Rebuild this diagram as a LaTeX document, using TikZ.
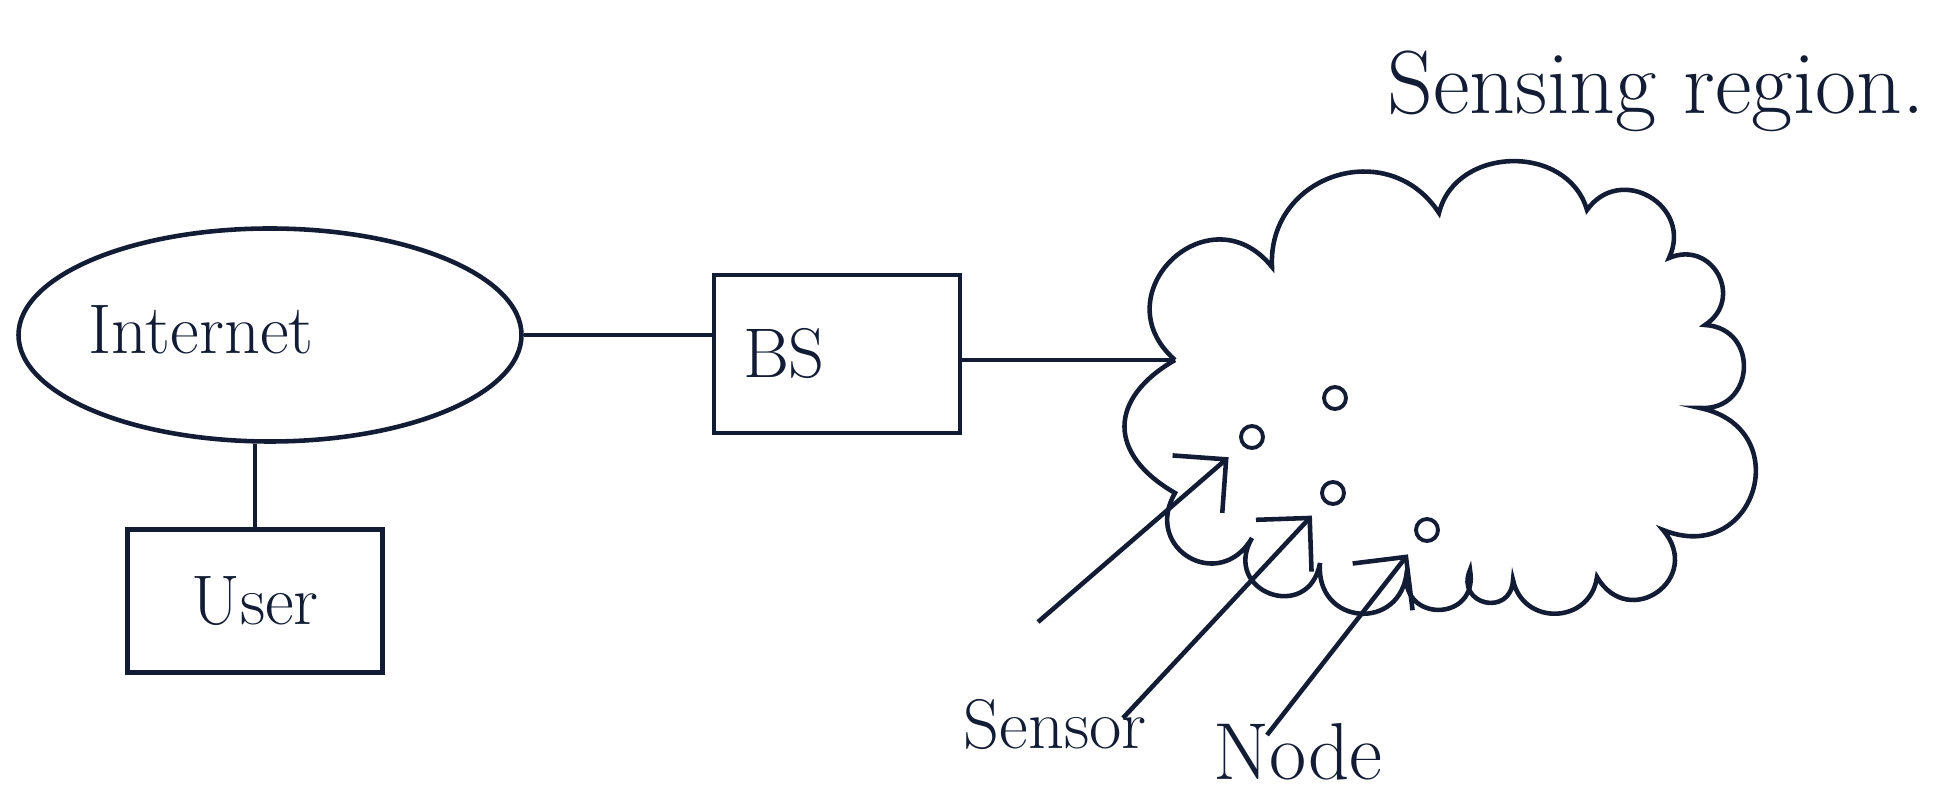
\documentclass[tikz,border=0pt]{standalone}
\usepackage{tikz}
\usetikzlibrary{positioning, arrows.meta, shapes.geometric}
\definecolor{ink}{RGB}{18,28,52}

\begin{document}
\begin{tikzpicture}[ink, line width=1.3pt,
    lbl/.style={font=\fontsize{20}{24}\selectfont, inner sep=0pt},
    biglbl/.style={font=\fontsize{23}{28}\selectfont, inner sep=0pt},
    box/.style={draw, rectangle},
    sens/.style={draw, circle, minimum size=2.2mm, inner sep=0pt, line width=1.1pt},
    ptr/.style={-{Straight Barb[length=3.8mm, width=7.6mm]}, shorten >=1.8mm},
    puff/.style 2 args={bend left=#1, looseness=#2}]
  \useasboundingbox (0,0) rectangle (19.57,7.91);

  % internet, user and base station
  \node [draw, ellipse, minimum width=5.03cm, minimum height=2.13cm,
    label={[lbl, xshift=-6.9mm, yshift=0.5mm]center:Internet}] (inet) at (2.70,4.56) {};
  \node [box, lbl, minimum width=2.55cm, minimum height=1.43cm] (user) at (2.55,1.90) {User};
  \node [box, lbl, minimum height=1.58cm, text width=1.88cm, inner xsep=2.9mm,
    align=left] (bs) at (8.37,4.37) {BS};
  \draw (inet.south -| user.north) -- (user.north);
  \draw (inet.east) -- (inet.east -| bs.west);

  % sensing region
  \coordinate (regionW) at (11.75,4.31);
  \draw (regionW) to[puff={95}{1.9}] (12.72,5.24) to[puff={75}{1.35}] (14.39,5.78)
    to[puff={75}{1.2}] (15.87,5.81) to[puff={85}{1.55}] (16.69,5.33)
    to[puff={85}{1.6}] (17.05,4.66) to[puff={90}{1.7}] (17.00,3.83)
    to[puff={95}{2.0}] (16.63,2.61) to[puff={95}{2.0}] (15.97,2.14)
    to[puff={80}{1.45}] (15.13,2.11) to[puff={100}{2.2}] (14.70,2.21)
    to[puff={100}{2.2}] (14.07,2.21) to[puff={90}{1.85}] (13.20,2.28)
    to[puff={100}{2.2}] (12.52,2.53) to[puff={90}{1.85}] (11.75,2.98)
    to[puff={60}{1.5}] (regionW);
  \draw (bs.east |- regionW) -- (regionW);
  \node [biglbl, font=\fontsize{25.5}{30}\selectfont, anchor=base west] (title)
    at (13.85,6.77) {Sensing region.};

  % sensor nodes
  \node [sens] (s1) at (13.35,3.93) {};
  \node [sens] (s2) at (12.52,3.54) {};
  \node [sens] (s3) at (13.33,2.98) {};
  \node [sens] (s4) at (14.27,2.61) {};

  \node [lbl, anchor=base] (senslbl) at (10.55,0.42) {Sensor};
  \node [biglbl, anchor=base] (nodelbl) at (12.98,0.11) {Node};
  \coordinate (t1) at (10.38,1.69);
  \coordinate (t2) at (11.23,0.73);
  \coordinate (t3) at (12.67,0.56);
  \draw [ptr] (t1) -- (s2);
  \draw [ptr] (t2) -- (s3);
  \draw [ptr] (t3) -- (s4);
\end{tikzpicture}
\end{document}
